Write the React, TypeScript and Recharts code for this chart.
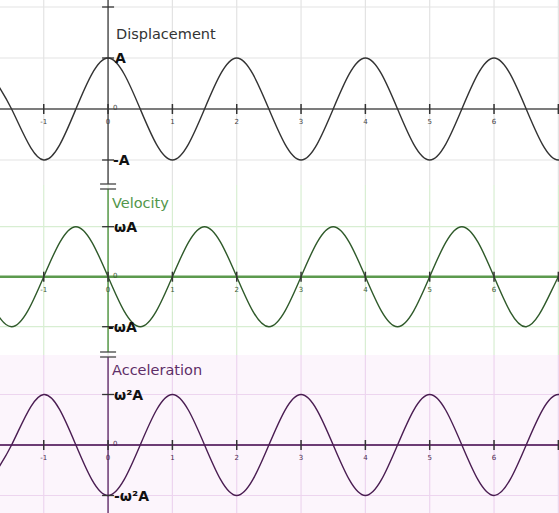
import React from "react";
import {
  LineChart, Line, XAxis, YAxis, CartesianGrid, ReferenceLine, ReferenceDot,
} from "recharts";

// time points (quarter periods)
const T = [-2, -1.5, -1, -0.5, 0, 0.5, 1, 1.5, 2, 2.5, 3, 3.5, 4, 4.5, 5, 5.5, 6, 6.5, 7, 7.5];
const DISPLACEMENT = [1, 0, -1, 0, 1, 0, -1, 0, 1, 0, -1, 0, 1, 0, -1, 0, 1, 0, -1, 0];
const VELOCITY = [0, -1, 0, 1, 0, -1, 0, 1, 0, -1, 0, 1, 0, -1, 0, 1, 0, -1, 0, 1];
const ACCELERATION = [-1, 0, 1, 0, -1, 0, 1, 0, -1, 0, 1, 0, -1, 0, 1, 0, -1, 0, 1, 0];

const X_TICKS = [-1, 0, 1, 2, 3, 4, 5, 6, 7];
const X_LABELS = ["-1", "0", "1", "2", "3", "4", "5", "6", ""];

const DISP_TICKS = [2, 1, -1];
const DISP_LABELS = ["", "A", "-A"];
const VEL_TICKS = [1, -1];
const VEL_LABELS = ["ωA", "-ωA"];
const ACC_TICKS = [1, -1];
const ACC_LABELS = ["ω²A", "-ω²A"];

const W = 559;
const X_DOMAIN = [-1.68, 7.01];
const FONT = "'DejaVu Sans', Verdana, sans-serif";

type PanelProps = {
  top: number;
  height: number;
  yDomain: number[];
  values: number[];
  yTicks: number[];
  yLabels: string[];
  labelDx: number[];
  bg: string;
  grid: string;
  axis: string;
  axisW: number;
  curve: string;
  tickText: string;
  title: string;
  titleColor: string;
  titleLeft: number;
  titleTop: number;
  topGap: number; // px where the vertical axis starts below panel top
  bottomGap: number; // px where the vertical axis stops above panel bottom
  breakTop: number | null;
  breakBottom: number | null;
};

function Panel(p: PanelProps) {
  const data = T.map((t, i) => ({ t, v: p.values[i] }));
  const [lo, hi] = p.yDomain;
  const upp = (hi - lo) / p.height; // units per px
  const gridY = [-1, 0, 1, 2].filter((v) => v > lo && v < hi);

  return (
    <div style={{ position: "absolute", left: 0, top: p.top, width: W, height: p.height, background: p.bg }}>
      <LineChart width={W} height={p.height} data={data} margin={{ top: 0, right: 0, bottom: 0, left: 0 }}>
        <XAxis type="number" dataKey="t" domain={X_DOMAIN} allowDataOverflow hide />
        <YAxis type="number" domain={p.yDomain} allowDataOverflow hide />
        <CartesianGrid stroke={p.grid} strokeWidth={1.2} verticalValues={X_TICKS} horizontalValues={gridY} />
        <ReferenceLine y={0} stroke={p.axis} strokeWidth={p.axisW} />
        <ReferenceLine
          segment={[{ x: 0, y: lo + p.bottomGap * upp }, { x: 0, y: hi - p.topGap * upp }]}
          stroke={p.axis}
          strokeWidth={1.5}
          ifOverflow="visible"
        />
        {p.breakTop !== null && (
          <ReferenceDot
            x={0}
            y={hi}
            ifOverflow="visible"
            shape={(s: any) => (
              <line x1={s.cx - 8} x2={s.cx + 8} y1={s.cy + p.breakTop!} y2={s.cy + p.breakTop!} stroke="#444" strokeWidth={1.3} />
            )}
          />
        )}
        {p.breakBottom !== null && (
          <ReferenceDot
            x={0}
            y={lo}
            ifOverflow="visible"
            shape={(s: any) => (
              <line x1={s.cx - 8} x2={s.cx + 8} y1={s.cy - p.breakBottom!} y2={s.cy - p.breakBottom!} stroke="#444" strokeWidth={1.3} />
            )}
          />
        )}
        {X_TICKS.map((x, i) => (
          <ReferenceDot
            key={"x" + x}
            x={x}
            y={0}
            ifOverflow="visible"
            shape={(s: any) => (
              <g>
                <line x1={s.cx} x2={s.cx} y1={s.cy - 5} y2={s.cy + 5} stroke="#333" strokeWidth={1.5} />
                <text x={s.cx} y={s.cy + 15} textAnchor="middle" fontSize={7} fill={p.tickText} fontFamily={FONT}>
                  {X_LABELS[i]}
                </text>
              </g>
            )}
          />
        ))}
        <ReferenceDot
          x={0}
          y={0}
          ifOverflow="visible"
          shape={(s: any) => (
            <text x={s.cx + 5} y={s.cy + 1} fontSize={7} fill={p.tickText} fontFamily={FONT}>0</text>
          )}
        />
        {p.yTicks.map((y, i) => (
          <ReferenceDot
            key={"y" + y}
            x={0}
            y={y}
            ifOverflow="visible"
            shape={(s: any) => (
              <g>
                <line x1={s.cx - 6} x2={s.cx + 6} y1={s.cy} y2={s.cy} stroke="#333" strokeWidth={1.3} />
                <text
                  x={s.cx + p.labelDx[i]}
                  y={s.cy}
                  dominantBaseline="central"
                  fontSize={14}
                  fontWeight={600}
                  fill="#111"
                  fontFamily={FONT}
                >
                  {p.yLabels[i]}
                </text>
              </g>
            )}
          />
        ))}
        <Line
          type="natural"
          dataKey="v"
          stroke={p.curve}
          strokeWidth={1.4}
          dot={false}
          activeDot={false}
          isAnimationActive={false}
        />
      </LineChart>
      <span
        style={{
          position: "absolute",
          left: p.titleLeft,
          top: p.titleTop,
          fontFamily: FONT,
          fontSize: 14.5,
          lineHeight: 1,
          color: p.titleColor,
          whiteSpace: "nowrap",
        }}
      >
        {p.title}
      </span>
    </div>
  );
}

export default function App() {
  return (
    <div style={{ position: "absolute", left: 0, top: 0, width: W, height: 513, background: "#fff", overflow: "hidden" }}>
      <Panel
        top={0}
        height={185}
        yDomain={[-(185 - 109) / 51, 109 / 51]}
        values={DISPLACEMENT}
        yTicks={DISP_TICKS}
        yLabels={DISP_LABELS}
        labelDx={[7, 7, 5]}
        bg="#ffffff"
        grid="#e3e3e3"
        axis="#555555"
        axisW={1.6}
        curve="#333333"
        tickText="#444"
        title="Displacement"
        titleColor="#333"
        titleLeft={116}
        titleTop={27}
        topGap={0}
        bottomGap={1}
        breakTop={null}
        breakBottom={1}
      />
      <Panel
        top={185}
        height={170}
        yDomain={[-(170 - 91.7) / 50, 91.7 / 50]}
        values={VELOCITY}
        yTicks={VEL_TICKS}
        yLabels={VEL_LABELS}
        labelDx={[6, 0]}
        bg="#ffffff"
        grid="#d8eed2"
        axis="#5c9a4e"
        axisW={2.6}
        curve="#2f5a2a"
        tickText="#3d5a36"
        title="Velocity"
        titleColor="#52964a"
        titleLeft={112}
        titleTop={11}
        topGap={4}
        bottomGap={3}
        breakTop={4}
        breakBottom={3}
      />
      <Panel
        top={355}
        height={158}
        yDomain={[-(158 - 90) / 50.5, 90 / 50.5]}
        values={ACCELERATION}
        yTicks={ACC_TICKS}
        yLabels={ACC_LABELS}
        labelDx={[6, 6]}
        bg="#fcf5fc"
        grid="#edd5ef"
        axis="#6c3c74"
        axisW={2}
        curve="#4a1d52"
        tickText="#4a2a50"
        title="Acceleration"
        titleColor="#5e2e68"
        titleLeft={112}
        titleTop={8}
        topGap={2}
        bottomGap={0}
        breakTop={2}
        breakBottom={null}
      />
    </div>
  );
}
